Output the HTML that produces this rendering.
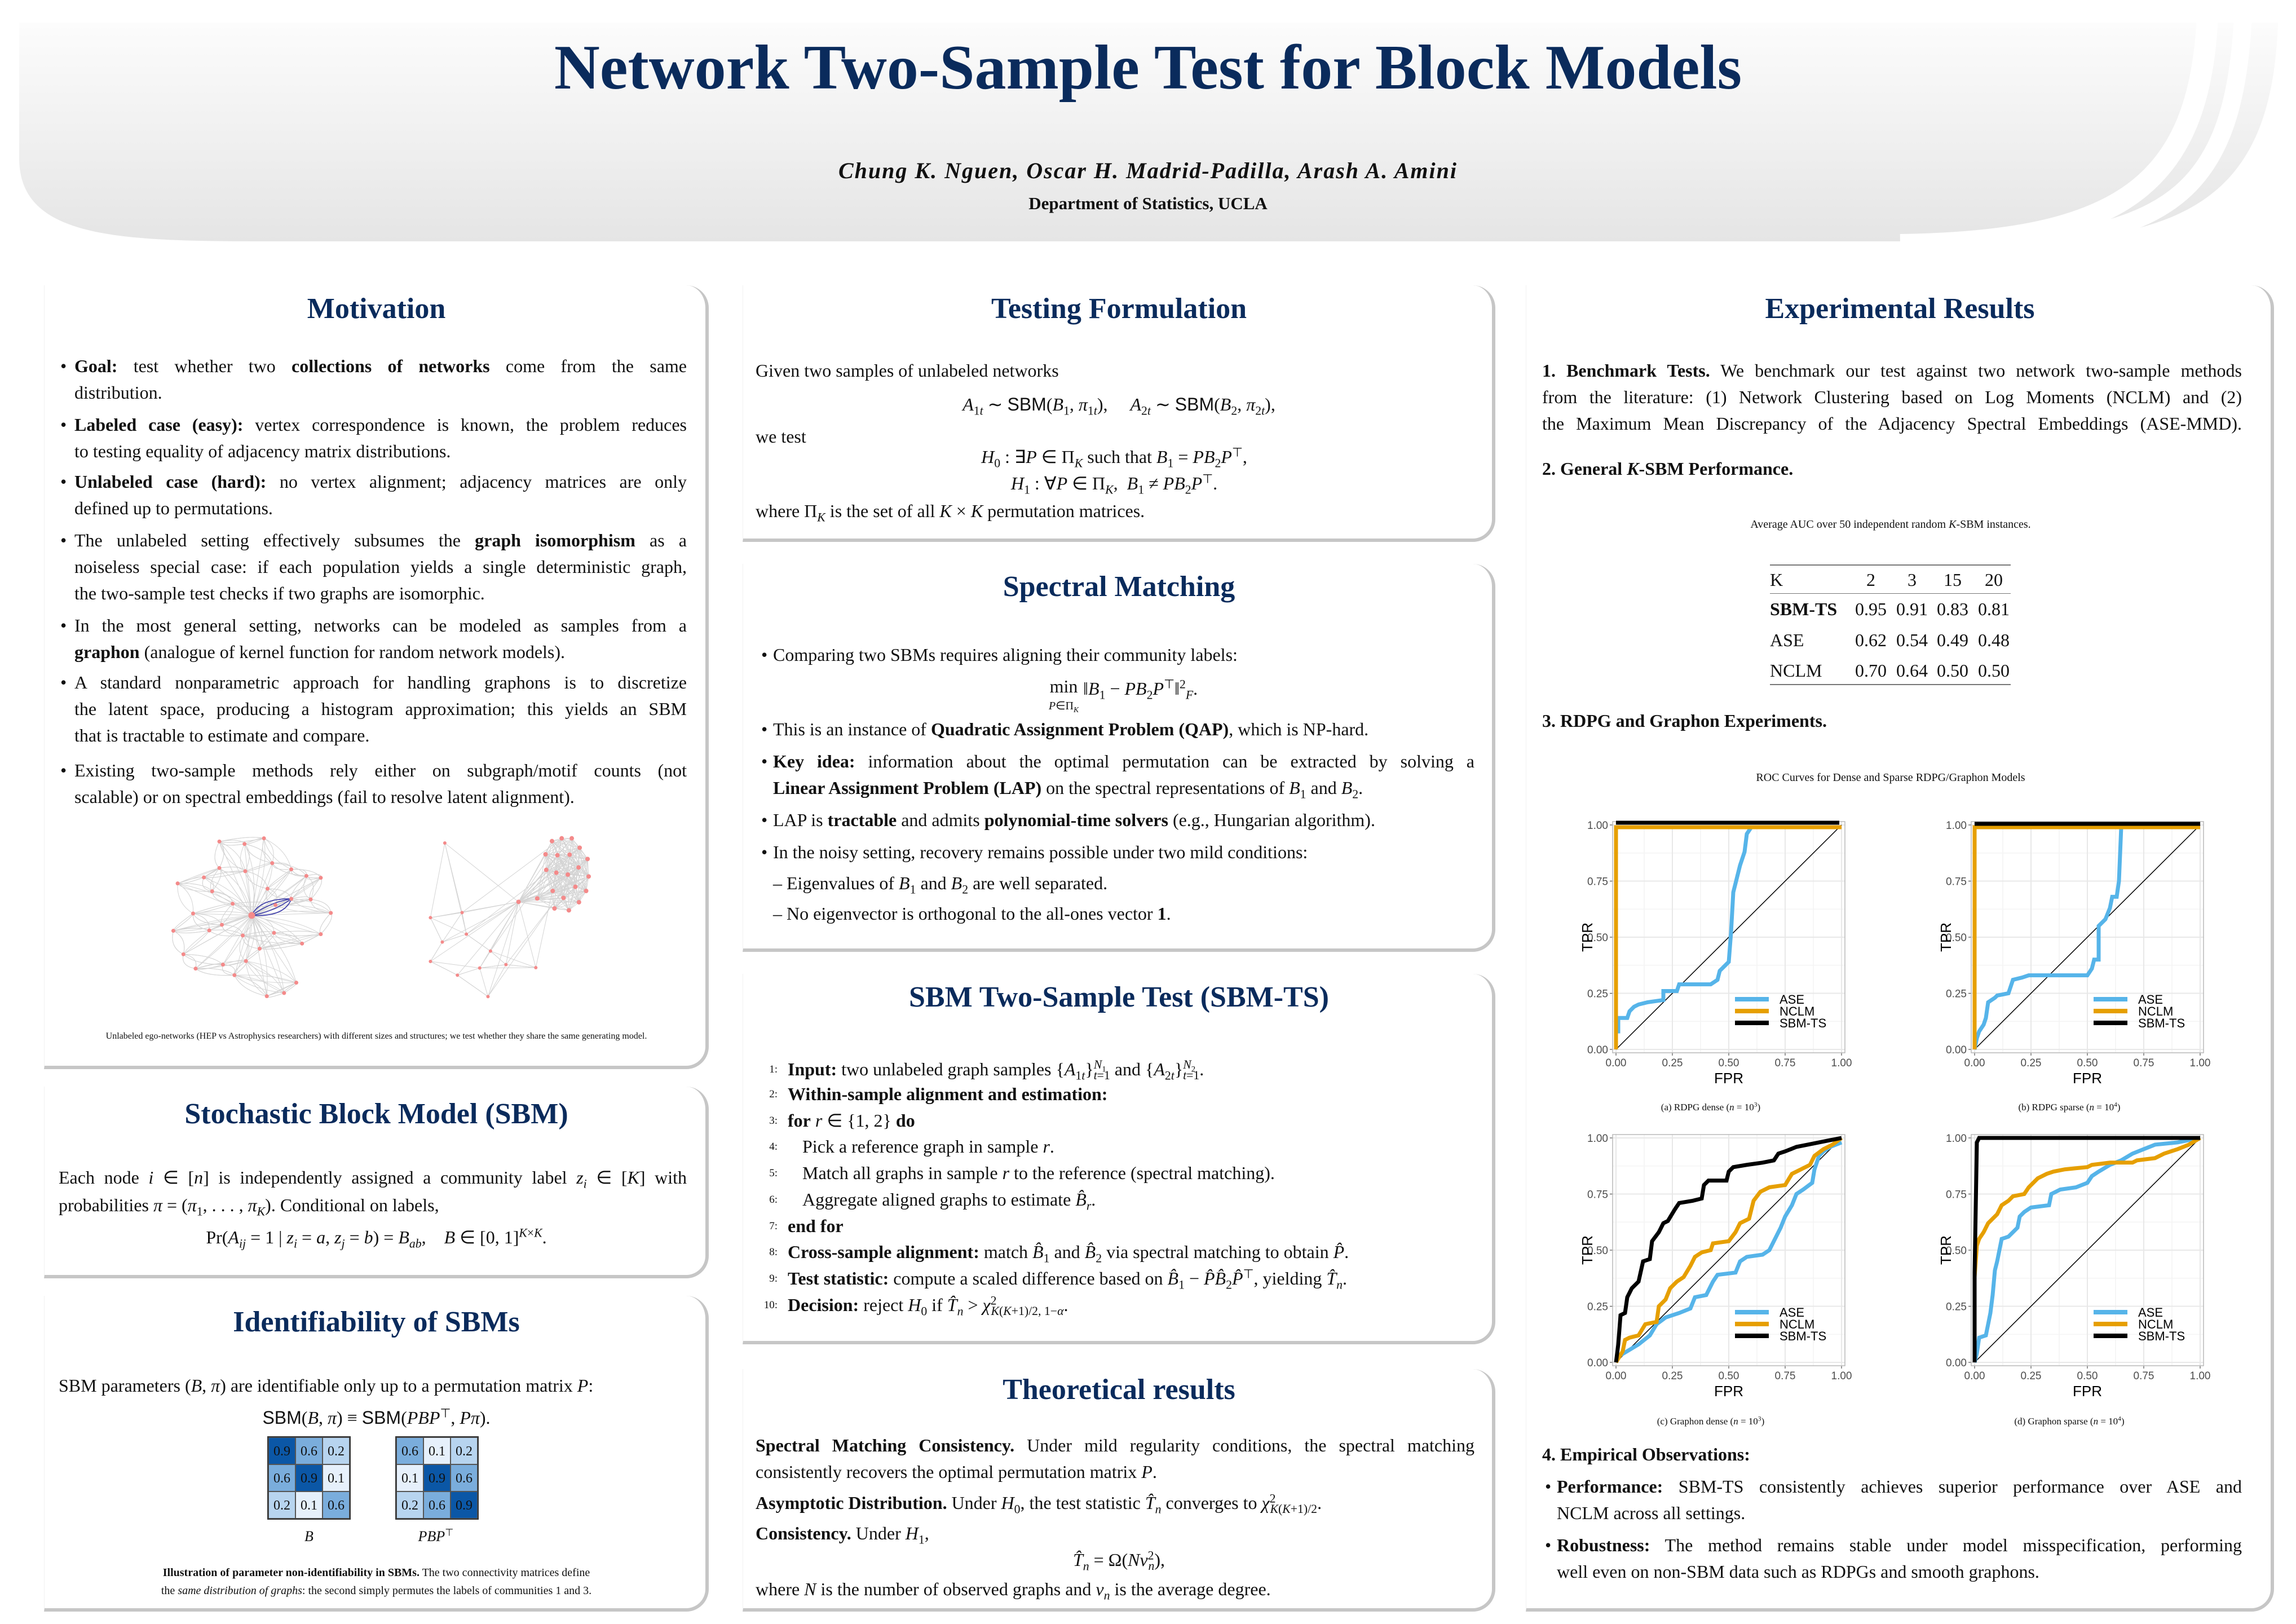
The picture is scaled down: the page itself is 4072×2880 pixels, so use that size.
<!DOCTYPE html>
<html><head><meta charset="utf-8">
<style>
*{margin:0;padding:0;box-sizing:border-box}
body{width:4072px;height:2880px;background:#fff;overflow:hidden}
#p{position:relative;width:4072px;height:2880px;font-family:"Liberation Serif",serif;color:#111}
.card{position:absolute;background:#fff;border-right:6px solid #c6c6c6;border-bottom:6px solid #c6c6c6;border-left:1px solid #f2f2f2;border-radius:0 40px 40px 0}
.t{position:absolute;text-align:center;font-weight:bold;font-size:52px;line-height:60px;color:#0a2b5c;white-space:nowrap}
.l{position:absolute;height:47px;line-height:47px;font-size:32px;white-space:nowrap}
.j{text-align:justify;text-align-last:justify;white-space:normal;overflow:hidden}
.c{text-align:center}
.bu{position:absolute;font-size:32px;line-height:47px}
sub,sup{font-size:0.68em;line-height:0}
.sm{position:absolute;font-size:20px;line-height:28px;text-align:center;white-space:nowrap}
.mx{position:absolute;display:grid;grid-template-columns:48px 48px 48px;border:2px solid #333}
.mx div{height:48px;line-height:48px;text-align:center;font-size:24px;border:1px solid #555}
.num{position:absolute;width:40px;text-align:right;font-size:19px;line-height:47px}
</style></head><body><div id="p">

<svg style="position:absolute;left:0;top:0" width="4072" height="440">
<defs><linearGradient id="hg" x1="0" y1="0" x2="0" y2="1"><stop offset="0" stop-color="#fcfcfc"/><stop offset="1" stop-color="#e5e5e5"/></linearGradient></defs>
<path d="M34,40 H4040 C4030,330 3900,428 3560,428 H467 C200,428 34,420 34,280 Z" fill="url(#hg)"/>
<path d="M3915,30 C3900,330 3760,428 3370,434" stroke="#fff" stroke-width="38" fill="none"/>
<path d="M3978,30 C3962,330 3860,428 3495,434" stroke="#fff" stroke-width="32" fill="none"/>
</svg>
<div style="position:absolute;left:0;width:4072px;top:58px;text-align:center;font-weight:bold;font-size:112px;line-height:124px;color:#0a2b5c">Network Two-Sample Test for Block Models</div>
<div style="position:absolute;left:0;width:4072px;top:280px;text-align:center;font-weight:bold;font-style:italic;font-size:40px;line-height:46px;letter-spacing:2px">Chung K. Nguen, Oscar H. Madrid-Padilla, Arash A. Amini</div>
<div style="position:absolute;left:0;width:4072px;top:344px;text-align:center;font-weight:bold;font-size:31px;line-height:34px">Department of Statistics, UCLA</div>

<!-- cards -->
<div class="card" style="left:78px;top:506px;width:1179px;height:1390px"></div>
<div class="card" style="left:78px;top:1927px;width:1179px;height:340px"></div>
<div class="card" style="left:78px;top:2298px;width:1179px;height:560px"></div>
<div class="card" style="left:1317px;top:506px;width:1335px;height:455px"></div>
<div class="card" style="left:1317px;top:1000px;width:1335px;height:688px"></div>
<div class="card" style="left:1317px;top:1727px;width:1335px;height:657px"></div>
<div class="card" style="left:1317px;top:2428px;width:1335px;height:430px"></div>
<div class="card" style="left:2706px;top:506px;width:1327px;height:2352px"></div>

<!-- Motivation -->
<div class="t" style="left:78px;width:1179px;top:518px">Motivation</div>
<div class="bu" style="left:107px;top:626px">•</div>
<div class="l j" style="left:132px;width:1086px;top:626px"><b>Goal:</b> test whether two <b>collections of networks</b> come from the same</div>
<div class="l" style="left:132px;top:673px">distribution.</div>
<div class="bu" style="left:107px;top:730px">•</div>
<div class="l j" style="left:132px;width:1086px;top:730px"><b>Labeled case (easy):</b> vertex correspondence is known, the problem reduces</div>
<div class="l" style="left:132px;top:777px">to testing equality of adjacency matrix distributions.</div>
<div class="bu" style="left:107px;top:831px">•</div>
<div class="l j" style="left:132px;width:1086px;top:831px"><b>Unlabeled case (hard):</b> no vertex alignment; adjacency matrices are only</div>
<div class="l" style="left:132px;top:878px">defined up to permutations.</div>
<div class="bu" style="left:107px;top:935px">•</div>
<div class="l j" style="left:132px;width:1086px;top:935px">The unlabeled setting effectively subsumes the <b>graph isomorphism</b> as a</div>
<div class="l j" style="left:132px;width:1086px;top:982px">noiseless special case: if each population yields a single deterministic graph,</div>
<div class="l" style="left:132px;top:1029px">the two-sample test checks if two graphs are isomorphic.</div>
<div class="bu" style="left:107px;top:1086px">•</div>
<div class="l j" style="left:132px;width:1086px;top:1086px">In the most general setting, networks can be modeled as samples from a</div>
<div class="l" style="left:132px;top:1133px"><b>graphon</b> (analogue of kernel function for random network models).</div>
<div class="bu" style="left:107px;top:1187px">•</div>
<div class="l j" style="left:132px;width:1086px;top:1187px">A standard nonparametric approach for handling graphons is to discretize</div>
<div class="l j" style="left:132px;width:1086px;top:1234px">the latent space, producing a histogram approximation; this yields an SBM</div>
<div class="l" style="left:132px;top:1281px">that is tractable to estimate and compare.</div>
<div class="bu" style="left:107px;top:1343px">•</div>
<div class="l j" style="left:132px;width:1086px;top:1343px">Existing two-sample methods rely either on subgraph/motif counts (not</div>
<div class="l" style="left:132px;top:1390px">scalable) or on spectral embeddings (fail to resolve latent alignment).</div>

<svg id="gr" style="position:absolute;left:250px;top:1460px" width="1000" height="400" viewBox="0 0 1568 1200" preserveAspectRatio="none">
<g id="edges"></g>
<g fill="none" stroke="#3a3aa8" stroke-width="1.6">
<path d="M308,490 Q330,400 418,402" vector-effect="non-scaling-stroke"/><path d="M308,490 Q360,420 418,402" vector-effect="non-scaling-stroke"/><path d="M308,490 Q400,500 418,402" vector-effect="non-scaling-stroke"/><path d="M308,490 Q370,470 418,402" vector-effect="non-scaling-stroke"/>
</g>
<g id="nodes" fill="#f48a8a"></g>
</svg>
<div class="sm" style="left:78px;width:1179px;top:1824px;font-size:16px">Unlabeled ego-networks (HEP vs Astrophysics researchers) with different sizes and structures; we test whether they share the same generating model.</div>

<!-- SBM -->
<div class="t" style="left:78px;width:1179px;top:1946px">Stochastic Block Model (SBM)</div>
<div class="l j" style="left:104px;width:1114px;top:2065px">Each node <i>i</i> ∈ [<i>n</i>] is independently assigned a community label <i>z<sub>i</sub></i> ∈ [<i>K</i>] with</div>
<div class="l" style="left:104px;top:2114px">probabilities <i>π</i> = (<i>π</i><sub>1</sub>, . . . , <i>π<sub>K</sub></i>). Conditional on labels,</div>
<div class="l c" style="left:78px;width:1179px;top:2171px">Pr(<i>A<sub>ij</sub></i> = 1 | <i>z<sub>i</sub></i> = <i>a</i>, <i>z<sub>j</sub></i> = <i>b</i>) = <i>B<sub>ab</sub></i>,&nbsp;&nbsp;&nbsp; <i>B</i> ∈ [0, 1]<sup><i>K</i>×<i>K</i></sup>.</div>

<!-- Identifiability -->
<div class="t" style="left:78px;width:1179px;top:2315px">Identifiability of SBMs</div>
<div class="l" style="left:104px;top:2434px">SBM parameters (<i>B</i>, <i>π</i>) are identifiable only up to a permutation matrix <i>P</i>:</div>
<div class="l c" style="left:78px;width:1179px;top:2491px"><span style="font-family:'Liberation Sans',sans-serif">SBM</span>(<i>B</i>, <i>π</i>) ≡ <span style="font-family:'Liberation Sans',sans-serif">SBM</span>(<i>PBP</i><sup>⊤</sup>, <i>Pπ</i>).</div>
<div class="mx" style="left:474px;top:2547px">
<div style="background:#0b57a6">0.9</div><div style="background:#7aaddc">0.6</div><div style="background:#b7d4ef">0.2</div>
<div style="background:#7aaddc">0.6</div><div style="background:#0b57a6">0.9</div><div style="background:#e6f0fb">0.1</div>
<div style="background:#b7d4ef">0.2</div><div style="background:#e6f0fb">0.1</div><div style="background:#7aaddc">0.6</div></div>
<div class="mx" style="left:701px;top:2547px">
<div style="background:#7aaddc">0.6</div><div style="background:#e6f0fb">0.1</div><div style="background:#b7d4ef">0.2</div>
<div style="background:#e6f0fb">0.1</div><div style="background:#0b57a6">0.9</div><div style="background:#7aaddc">0.6</div>
<div style="background:#b7d4ef">0.2</div><div style="background:#7aaddc">0.6</div><div style="background:#0b57a6">0.9</div></div>
<div class="sm" style="left:498px;width:100px;top:2711px;font-size:26px"><i>B</i></div>
<div class="sm" style="left:723px;width:100px;top:2711px;font-size:26px"><i>PBP</i><sup>⊤</sup></div>
<div class="sm" style="left:100px;width:1135px;top:2775px;font-size:20px"><b>Illustration of parameter non-identifiability in SBMs.</b> The two connectivity matrices define</div>
<div class="sm" style="left:100px;width:1135px;top:2807px;font-size:20px">the <i>same distribution of graphs</i>: the second simply permutes the labels of communities 1 and 3.</div>

<!-- Testing formulation -->
<div class="t" style="left:1317px;width:1335px;top:518px">Testing Formulation</div>
<div class="l" style="left:1340px;top:634px">Given two samples of unlabeled networks</div>
<div class="l c" style="left:1317px;width:1335px;top:694px"><i>A</i><sub>1<i>t</i></sub> ∼ <span style="font-family:'Liberation Sans',sans-serif">SBM</span>(<i>B</i><sub>1</sub>, <i>π</i><sub>1<i>t</i></sub>),&nbsp;&nbsp;&nbsp;&nbsp; <i>A</i><sub>2<i>t</i></sub> ∼ <span style="font-family:'Liberation Sans',sans-serif">SBM</span>(<i>B</i><sub>2</sub>, <i>π</i><sub>2<i>t</i></sub>),</div>
<div class="l" style="left:1340px;top:751px">we test</div>
<div class="l c" style="left:1476px;width:1000px;top:787px"><i>H</i><sub>0</sub> : ∃<i>P</i> ∈ Π<sub><i>K</i></sub> such that <i>B</i><sub>1</sub> = <i>PB</i><sub>2</sub><i>P</i><sup>⊤</sup>,</div>
<div class="l c" style="left:1476px;width:1000px;top:834px"><i>H</i><sub>1</sub> : ∀<i>P</i> ∈ Π<sub><i>K</i></sub>, &nbsp;<i>B</i><sub>1</sub> ≠ <i>PB</i><sub>2</sub><i>P</i><sup>⊤</sup>.</div>
<div class="l" style="left:1340px;top:883px">where Π<sub><i>K</i></sub> is the set of all <i>K</i> × <i>K</i> permutation matrices.</div>

<!-- Spectral matching -->
<div class="t" style="left:1317px;width:1335px;top:1011px">Spectral Matching</div>
<div class="bu" style="left:1350px;top:1138px">•</div>
<div class="l" style="left:1371px;top:1138px">Comparing two SBMs requires aligning their community labels:</div>
<div class="l c" style="left:1317px;width:1350px;top:1198px"><span style="display:inline-block;vertical-align:top;text-align:center;line-height:30px;position:relative;top:4px">min<br><span style="font-size:20px"><i>P</i>∈Π<sub><i>K</i></sub></span></span> ‖<i>B</i><sub>1</sub> − <i>PB</i><sub>2</sub><i>P</i><sup>⊤</sup>‖<sup>2</sup><sub><i>F</i></sub>.</div>
<div class="bu" style="left:1350px;top:1270px">•</div>
<div class="l" style="left:1371px;top:1270px">This is an instance of <b>Quadratic Assignment Problem (QAP)</b>, which is NP-hard.</div>
<div class="bu" style="left:1350px;top:1327px">•</div>
<div class="l j" style="left:1371px;width:1244px;top:1327px"><b>Key idea:</b> information about the optimal permutation can be extracted by solving a</div>
<div class="l" style="left:1371px;top:1374px"><b>Linear Assignment Problem (LAP)</b> on the spectral representations of <i>B</i><sub>1</sub> and <i>B</i><sub>2</sub>.</div>
<div class="bu" style="left:1350px;top:1431px">•</div>
<div class="l" style="left:1371px;top:1431px">LAP is <b>tractable</b> and admits <b>polynomial-time solvers</b> (e.g., Hungarian algorithm).</div>
<div class="bu" style="left:1350px;top:1488px">•</div>
<div class="l" style="left:1371px;top:1488px">In the noisy setting, recovery remains possible under two mild conditions:</div>
<div class="l" style="left:1371px;top:1543px">– Eigenvalues of <i>B</i><sub>1</sub> and <i>B</i><sub>2</sub> are well separated.</div>
<div class="l" style="left:1371px;top:1597px">– No eigenvector is orthogonal to the all-ones vector <b>1</b>.</div>

<!-- SBM-TS -->
<div class="t" style="left:1317px;width:1335px;top:1739px">SBM Two-Sample Test (SBM-TS)</div>
<div class="num" style="left:1339px;top:1873px">1:</div>
<div class="l" style="left:1397px;top:1873px"><b>Input:</b> two unlabeled graph samples {<i>A</i><sub>1<i>t</i></sub>}<sup><i>N</i><sub>1</sub></sup><sub style="margin-left:-22px"><i>t</i>=1</sub> and {<i>A</i><sub>2<i>t</i></sub>}<sup><i>N</i><sub>2</sub></sup><sub style="margin-left:-22px"><i>t</i>=1</sub>.</div>
<div class="num" style="left:1339px;top:1917px">2:</div>
<div class="l" style="left:1397px;top:1917px"><b>Within-sample alignment and estimation:</b></div>
<div class="num" style="left:1339px;top:1964px">3:</div>
<div class="l" style="left:1397px;top:1964px"><b>for</b> <i>r</i> ∈ {1, 2} <b>do</b></div>
<div class="num" style="left:1339px;top:2010px">4:</div>
<div class="l" style="left:1423px;top:2010px">Pick a reference graph in sample <i>r</i>.</div>
<div class="num" style="left:1339px;top:2057px">5:</div>
<div class="l" style="left:1423px;top:2057px">Match all graphs in sample <i>r</i> to the reference (spectral matching).</div>
<div class="num" style="left:1339px;top:2104px">6:</div>
<div class="l" style="left:1423px;top:2104px">Aggregate aligned graphs to estimate <i>B̂</i><sub><i>r</i></sub>.</div>
<div class="num" style="left:1339px;top:2151px">7:</div>
<div class="l" style="left:1397px;top:2151px"><b>end for</b></div>
<div class="num" style="left:1339px;top:2197px">8:</div>
<div class="l" style="left:1397px;top:2197px"><b>Cross-sample alignment:</b> match <i>B̂</i><sub>1</sub> and <i>B̂</i><sub>2</sub> via spectral matching to obtain <i>P̂</i>.</div>
<div class="num" style="left:1339px;top:2244px">9:</div>
<div class="l" style="left:1397px;top:2244px"><b>Test statistic:</b> compute a scaled difference based on <i>B̂</i><sub>1</sub> − <i>P̂B̂</i><sub>2</sub><i>P̂</i><sup>⊤</sup>, yielding <i>T̂</i><sub><i>n</i></sub>.</div>
<div class="num" style="left:1339px;top:2291px">10:</div>
<div class="l" style="left:1397px;top:2291px"><b>Decision:</b> reject <i>H</i><sub>0</sub> if <i>T̂</i><sub><i>n</i></sub> &gt; <i>χ</i><sup>2</sup><sub style="margin-left:-10px"><i>K</i>(<i>K</i>+1)/2, 1−<i>α</i></sub>.</div>

<!-- Theoretical -->
<div class="t" style="left:1317px;width:1335px;top:2435px">Theoretical results</div>
<div class="l j" style="left:1340px;width:1275px;top:2540px"><b>Spectral Matching Consistency.</b> Under mild regularity conditions, the spectral matching</div>
<div class="l" style="left:1340px;top:2587px">consistently recovers the optimal permutation matrix <i>P</i>.</div>
<div class="l" style="left:1340px;top:2642px"><b>Asymptotic Distribution.</b> Under <i>H</i><sub>0</sub>, the test statistic <i>T̂</i><sub><i>n</i></sub> converges to <i>χ</i><sup>2</sup><sub style="margin-left:-10px"><i>K</i>(<i>K</i>+1)/2</sub>.</div>
<div class="l" style="left:1340px;top:2696px"><b>Consistency.</b> Under <i>H</i><sub>1</sub>,</div>
<div class="l c" style="left:1317px;width:1335px;top:2743px"><i>T̂</i><sub><i>n</i></sub> = Ω(<i>Nν</i><sup>2</sup><sub style="margin-left:-10px"><i>n</i></sub>),</div>
<div class="l" style="left:1340px;top:2795px">where <i>N</i> is the number of observed graphs and <i>ν<sub>n</sub></i> is the average degree.</div>

<!-- Experimental -->
<div class="t" style="left:2706px;width:1327px;top:518px">Experimental Results</div>
<div class="l j" style="left:2735px;width:1241px;top:634px"><b>1. Benchmark Tests.</b> We benchmark our test against two network two-sample methods</div>
<div class="l j" style="left:2735px;width:1241px;top:681px">from the literature: (1) Network Clustering based on Log Moments (NCLM) and (2)</div>
<div class="l j" style="left:2735px;width:1241px;top:728px">the Maximum Mean Discrepancy of the Adjacency Spectral Embeddings (ASE-MMD).</div>
<div class="l" style="left:2735px;top:808px"><b>2. General <i>K</i>-SBM Performance.</b></div>
<div class="sm" style="left:2853px;width:1000px;top:916px">Average AUC over 50 independent random <i>K</i>-SBM instances.</div>
<div style="position:absolute;left:3139px;width:427px;top:1001px;border-top:2px solid #777"></div>
<div style="position:absolute;left:3139px;width:427px;top:1052px;border-top:1.5px solid #777"></div>
<div style="position:absolute;left:3139px;width:427px;top:1213px;border-top:2px solid #777"></div>
<div class="l" style="left:3139px;top:1005px">K</div>
<div class="l c" style="left:3283px;width:70px;top:1005px">2</div><div class="l c" style="left:3356px;width:70px;top:1005px">3</div><div class="l c" style="left:3428px;width:70px;top:1005px">15</div><div class="l c" style="left:3501px;width:70px;top:1005px">20</div>
<div class="l" style="left:3139px;top:1057px"><b>SBM-TS</b></div>
<div class="l c" style="left:3283px;width:70px;top:1057px">0.95</div><div class="l c" style="left:3356px;width:70px;top:1057px">0.91</div><div class="l c" style="left:3428px;width:70px;top:1057px">0.83</div><div class="l c" style="left:3501px;width:70px;top:1057px">0.81</div>
<div class="l" style="left:3139px;top:1112px">ASE</div>
<div class="l c" style="left:3283px;width:70px;top:1112px">0.62</div><div class="l c" style="left:3356px;width:70px;top:1112px">0.54</div><div class="l c" style="left:3428px;width:70px;top:1112px">0.49</div><div class="l c" style="left:3501px;width:70px;top:1112px">0.48</div>
<div class="l" style="left:3139px;top:1166px">NCLM</div>
<div class="l c" style="left:3283px;width:70px;top:1166px">0.70</div><div class="l c" style="left:3356px;width:70px;top:1166px">0.64</div><div class="l c" style="left:3428px;width:70px;top:1166px">0.50</div><div class="l c" style="left:3501px;width:70px;top:1166px">0.50</div>
<div class="l" style="left:2735px;top:1255px"><b>3. RDPG and Graphon Experiments.</b></div>
<div class="sm" style="left:2853px;width:1000px;top:1365px">ROC Curves for Dense and Sparse RDPG/Graphon Models</div>

<div id="plots"></div>
<div class="sm" style="left:2834px;width:400px;top:1950px;font-size:17px">(a) RDPG dense (<i>n</i> = 10<sup>3</sup>)</div>
<div class="sm" style="left:3470px;width:400px;top:1950px;font-size:17px">(b) RDPG sparse (<i>n</i> = 10<sup>4</sup>)</div>
<div class="sm" style="left:2834px;width:400px;top:2507px;font-size:17px">(c) Graphon dense (<i>n</i> = 10<sup>3</sup>)</div>
<div class="sm" style="left:3470px;width:400px;top:2507px;font-size:17px">(d) Graphon sparse (<i>n</i> = 10<sup>4</sup>)</div>

<div class="l" style="left:2735px;top:2556px"><b>4. Empirical Observations:</b></div>
<div class="bu" style="left:2740px;top:2613px">•</div>
<div class="l j" style="left:2761px;width:1215px;top:2613px"><b>Performance:</b> SBM-TS consistently achieves superior performance over ASE and</div>
<div class="l" style="left:2761px;top:2660px">NCLM across all settings.</div>
<div class="bu" style="left:2740px;top:2717px">•</div>
<div class="l j" style="left:2761px;width:1215px;top:2717px"><b>Robustness:</b> The method remains stable under model misspecification, performing</div>
<div class="l" style="left:2761px;top:2764px">well even on non-SBM data such as RDPGs and smooth graphons.</div>

</div>
<script>
(function(){
var NS="http://www.w3.org/2000/svg";
var L=[[218,97],[288,110],[342,80],[365,212],[290,255],[218,238],[418,245],[460,280],[500,290],[175,288],[102,320],[198,362],[352,348],[418,402],[472,405],[255,428],[374,435],[145,480],[528,477],[225,540],[90,572],[190,570],[283,597],[370,583],[500,590],[448,640],[330,667],[118,697],[292,733],[228,752],[152,773],[260,808],[432,848],[398,903],[350,920]];
var hub=[308,490];
var R=[[1143,95],[1170,80],[1198,80],[1220,130],[1125,165],[1158,170],[1192,167],[1242,190],[1127,248],[1155,263],[1187,273],[1217,235],[1245,283],[1208,338],[1145,360],[1175,397],[1238,360],[1102,400],[1218,420],[1150,453],[1190,463],[1050,418]];
var O=[[845,105],[893,475],[805,502],[905,590],[838,632],[972,680],[805,735],[1015,752],[942,770],[1098,768],[880,808],[965,922]];
var e=document.getElementById("edges"),n=document.getElementById("nodes");
function ln(a,b,q){var p=document.createElementNS(NS,"path");var mx=(a[0]+b[0])/2+q,my=(a[1]+b[1])/2-q;p.setAttribute("d","M"+a[0]+","+a[1]+" Q"+mx+","+my+" "+b[0]+","+b[1]);p.setAttribute("fill","none");p.setAttribute("stroke","#d4d4d4");p.setAttribute("stroke-width","1");p.setAttribute("vector-effect","non-scaling-stroke");e.appendChild(p);}
function d(a,b){return Math.hypot(a[0]-b[0],a[1]-b[1]);}
L.forEach(function(a){ln(hub,a,0);ln(hub,a,30);});
L.forEach(function(a,i){var s=L.map(function(b,j){return [d(a,b),j]}).sort(function(x,y){return x[0]-y[0]});for(var k=1;k<5;k++){ln(a,L[s[k][1]],25);ln(a,L[s[k][1]],-25);}});
R.forEach(function(a,i){R.forEach(function(b,j){if(j>i&&d(a,b)<260)ln(a,b,0);});});
O.forEach(function(a,i){var s=O.map(function(b,j){return [d(a,b),j]}).sort(function(x,y){return x[0]-y[0]});for(var k=1;k<4;k++)ln(a,O[s[k][1]],0);ln(a,R[21],0);if(i%2)ln(a,R[i%20],0);});
R.forEach(function(a){ln(a,R[21],0);});
function nd(a,r){var c=document.createElementNS(NS,"ellipse");c.setAttribute("cx",a[0]);c.setAttribute("cy",a[1]);c.setAttribute("rx",r*1.57);c.setAttribute("ry",r*3);n.appendChild(c);}
L.forEach(function(a){nd(a,3.5)});nd(hub,6);R.forEach(function(a){nd(a,4)});O.forEach(function(a){nd(a,3)});
var P={
a:{x:2780,y:1447,c:[["#56b4e9",[[0,.08],[.01,.08],[.01,.14],[.05,.14],[.06,.17],[.08,.19],[.1,.2],[.14,.21],[.21,.22],[.21,.26],[.27,.26],[.28,.29],[.42,.29],[.45,.31],[.46,.35],[.48,.37],[.5,.39],[.51,.52],[.52,.7],[.53,.74],[.55,.82],[.57,.88],[.58,.96],[.6,.99]]],["#e69f00",[[0,0],[0,.99],[1,.99]]],["#000",[[0,1.01],[.99,1.01]]]]},
b:{x:3416,y:1447,c:[["#56b4e9",[[0,0],[.01,.05],[.02,.08],[.04,.11],[.05,.14],[.06,.21],[.09,.23],[.1,.24],[.15,.25],[.16,.28],[.17,.31],[.21,.32],[.24,.33],[.5,.33],[.52,.36],[.53,.4],[.55,.4],[.55,.55],[.58,.58],[.6,.63],[.61,.68],[.63,.68],[.64,.75],[.65,.99]]],["#e69f00",[[0,0],[0,.99],[1,.99]]],["#000",[[0,1.005],[1,1.005]]]]},
c:{x:2780,y:2002,c:[["#56b4e9",[[0,.02],[.05,.05],[.1,.08],[.15,.12],[.18,.17],[.22,.2],[.28,.22],[.33,.24],[.35,.29],[.4,.3],[.43,.36],[.45,.39],[.53,.4],[.55,.45],[.58,.47],[.65,.48],[.68,.5],[.7,.54],[.73,.6],[.75,.65],[.78,.7],[.8,.75],[.83,.77],[.87,.8],[.88,.86],[.9,.92],[.92,.94],[.95,.96],[1,.98]]],["#e69f00",[[0,0],[.03,.05],[.04,.1],[.06,.11],[.1,.12],[.13,.17],[.18,.18],[.19,.25],[.22,.28],[.24,.33],[.27,.36],[.3,.38],[.33,.43],[.35,.47],[.38,.49],[.42,.5],[.43,.53],[.5,.54],[.53,.58],[.55,.62],[.59,.64],[.61,.72],[.64,.76],[.68,.78],[.75,.79],[.78,.84],[.82,.86],[.86,.88],[.88,.92],[.92,.95],[.96,.97],[1,1]]],["#000",[[0,0],[.01,.08],[.02,.21],[.04,.22],[.05,.29],[.07,.33],[.1,.36],[.12,.45],[.15,.46],[.16,.54],[.19,.58],[.21,.62],[.23,.63],[.26,.68],[.28,.71],[.34,.72],[.38,.73],[.39,.79],[.41,.81],[.49,.81],[.5,.85],[.52,.87],[.58,.88],[.65,.89],[.7,.9],[.72,.93],[.75,.94],[.8,.96],[.85,.97],[.9,.98],[.95,.99],[1,1]]]]},
d:{x:3416,y:2002,c:[["#56b4e9",[[0,0],[.01,.04],[.02,.11],[.05,.12],[.06,.17],[.07,.22],[.08,.3],[.09,.41],[.1,.45],[.12,.55],[.15,.56],[.17,.58],[.19,.6],[.2,.65],[.22,.67],[.25,.69],[.33,.7],[.34,.75],[.38,.77],[.45,.78],[.5,.8],[.52,.83],[.55,.85],[.6,.88],[.65,.9],[.7,.93],[.75,.95],[.8,.97],[.9,.98],[1,1]]],["#e69f00",[[0,0],[0,.38],[.01,.52],[.02,.55],[.04,.58],[.06,.62],[.08,.64],[.1,.66],[.12,.7],[.15,.72],[.17,.74],[.22,.75],[.24,.78],[.26,.8],[.28,.82],[.32,.84],[.35,.85],[.4,.86],[.5,.87],[.52,.88],[.6,.89],[.7,.89],[.72,.9],[.8,.91],[.84,.93],[.9,.95],[.95,.97],[1,1]]],["#000",[[0,0],[0,.4],[.01,.98],[.02,1],[1,1]]]]}
};
var h="";
function X(v){return 86+v*400}function Y(v){return 414-v*398}
for(var k in P){var p=P[k];var s='<svg style="position:absolute;left:'+p.x+'px;top:'+p.y+'px" width="520" height="480" font-family="Liberation Sans,sans-serif">';
s+='<rect x="80" y="10" width="412" height="410" fill="#fff"/>';
for(var i=0;i<4;i++){var v=.125+.25*i;s+='<line x1="'+X(v)+'" y1="10" x2="'+X(v)+'" y2="420" stroke="#f4f4f4" stroke-width="1.5"/><line x1="80" y1="'+Y(v)+'" x2="492" y2="'+Y(v)+'" stroke="#f4f4f4" stroke-width="1.5"/>';}
var lab=["0.00","0.25","0.50","0.75","1.00"];
for(i=0;i<5;i++){var v=.25*i;s+='<line x1="'+X(v)+'" y1="10" x2="'+X(v)+'" y2="420" stroke="#e8e8e8" stroke-width="2"/><line x1="80" y1="'+Y(v)+'" x2="492" y2="'+Y(v)+'" stroke="#e8e8e8" stroke-width="2"/>';
s+='<text x="'+X(v)+'" y="444" font-size="19" fill="#4d4d4d" text-anchor="middle">'+lab[i]+'</text><text x="72" y="'+(Y(v)+7)+'" font-size="19" fill="#4d4d4d" text-anchor="end">'+lab[i]+'</text>';
s+='<line x1="'+X(v)+'" y1="420" x2="'+X(v)+'" y2="425" stroke="#333"/><line x1="75" y1="'+Y(v)+'" x2="80" y2="'+Y(v)+'" stroke="#333"/>';}
s+='<rect x="80" y="10" width="412" height="410" fill="none" stroke="#b8b8b8" stroke-width="1.5"/>';
s+='<line x1="'+X(0)+'" y1="'+Y(0)+'" x2="'+X(1)+'" y2="'+Y(1)+'" stroke="#000" stroke-width="1.5"/>';
p.c.forEach(function(c){s+='<polyline fill="none" stroke="'+c[0]+'" stroke-width="7" stroke-linejoin="miter" points="'+c[1].map(function(q){return X(q[0])+","+Y(q[1])}).join(" ")+'"/>';});
var lg=[["#56b4e9","ASE"],["#e69f00","NCLM"],["#000","SBM-TS"]];
lg.forEach(function(g,j){var yy=325+j*21;s+='<line x1="297" y1="'+yy+'" x2="357" y2="'+yy+'" stroke="'+g[0]+'" stroke-width="8"/><text x="376" y="'+(yy+8)+'" font-size="22" fill="#000">'+g[1]+'</text>';});
s+='<text x="286" y="474" font-size="26" text-anchor="middle" fill="#000">FPR</text><text transform="translate(44,215) rotate(-90)" font-size="26" text-anchor="middle" fill="#000">TPR</text></svg>';
h+=s;}
document.getElementById("plots").innerHTML=h;
})();
</script>
</body></html>
